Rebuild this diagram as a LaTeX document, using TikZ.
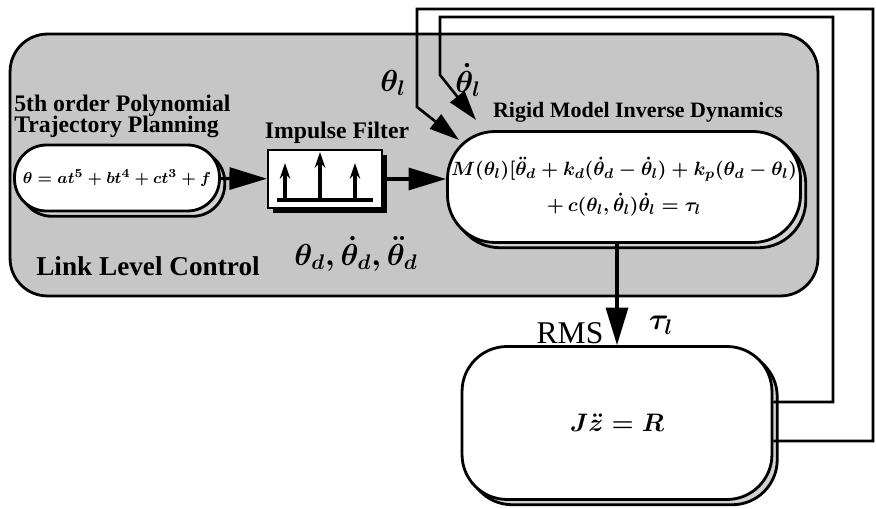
\documentclass[tikz,border=0pt]{standalone}
\usepackage{fontspec}
\setmainfont{Liberation Serif}
\usepackage{amsmath}
\usetikzlibrary{arrows.meta, positioning, shadows, calc}
\tikzset{
  panel/.style={rectangle, rounded corners=0.75cm, draw=black, line width=1.6pt, fill=gray!45},
  pillbox/.style={rectangle, rounded corners=#1, draw=black, line width=1.6pt, fill=white, align=center,
    copy shadow={shadow xshift=3pt, shadow yshift=-3pt, fill=gray!35}},
  pillbox/.default=0.6cm,
  filterbox/.style={rectangle, draw=black, line width=1.2pt, fill=white,
    drop shadow={shadow xshift=3pt, shadow yshift=-3pt, fill=black, opacity=1}},
  tag/.style={font=\bfseries\fontsize{13.5}{14}\selectfont, align=left, inner sep=0pt},
  bigtag/.style={font=\bfseries\fontsize{15.5}{16}\selectfont, inner sep=0pt},
  symtag/.style={font=\fontsize{16.5}{18}\selectfont\boldmath, inner sep=0pt},
  bigarrow/.style={-{Triangle[length=0.75cm,width=0.44cm]}, line width=1.8pt},
  fbline/.style={-{Triangle[length=0.6cm,width=0.36cm]}, line width=1.5pt},
  spike/.style={-{Stealth[length=9pt,width=6pt]}, line width=2.2pt},
}
\begin{document}
\begin{tikzpicture}[x=0.02cm, y=-0.02cm]
  \useasboundingbox (0,0) rectangle (876,509);

  % link level control panel
  \node[panel, minimum width=16.16cm, minimum height=5.24cm] (llc) at (414,165) {};

  % boxes
  \node[pillbox=0.64cm, minimum width=4.1cm, minimum height=1.32cm, inner sep=2pt,
        font=\fontsize{9.5}{11}\selectfont\boldmath] (traj) at (117,178)
        {$\theta = at^{5} + bt^{4} + ct^{3} + f$};
  \node[filterbox, minimum width=2.28cm, minimum height=1.16cm] (filt) at (325,179) {};
  \node[pillbox=0.95cm, minimum width=6.9cm, minimum height=2.22cm, inner sep=2pt,
        font=\fontsize{10.8}{13}\selectfont\boldmath] (dyn) at (624,187)
        {$M(\theta_l)[\ddot\theta_d + k_d(\dot\theta_d - \dot\theta_l) + k_p(\theta_d - \theta_l)$\\[6pt]
         $+\, c(\theta_l, \dot\theta_l)\dot\theta_l = \tau_l$};
  \node[pillbox=0.9cm, minimum width=6.2cm, minimum height=3.06cm,
        font=\fontsize{13.5}{14}\selectfont\boldmath] (plant) at (617,423) {$J\ddot z = R$};

  % impulse glyph
  \draw[line width=2.2pt] (277,200) -- (373,200);
  \foreach \px/\py in {285/163, 320/152, 355/163}
    \draw[spike] (\px,200) -- (\px,\py);

  % labels
  \node[tag, anchor=west] (trajlbl) at (14,116) {5th order Polynomial\\[-2pt]Trajectory Planning};
  \node[tag] (filtlbl) at (337,133) {Impulse Filter};
  \node[font=\bfseries\fontsize{12.5}{13}\selectfont, inner sep=0pt] (dynlbl) at (638,112) {Rigid Model Inverse Dynamics};
  \node[bigtag] (llclbl) at (148,266) {Link Level Control};
  \node[symtag] (desired) at (356,254) {$\theta_d, \dot\theta_d, \ddot\theta_d$};
  \node[symtag] (posfb) at (393,83) {$\theta_l$};
  \node[symtag] (velfb) at (468,80) {$\dot\theta_l$};
  \node[font=\fontsize{18}{19}\selectfont, inner sep=0pt] (rms) at (570,333) {RMS};
  \node[symtag] (torque) at (661,325) {$\tau_l$};

  % forward path
  \draw[bigarrow] (traj) -- (filt);
  \draw[bigarrow] (filt.east) -- (filt.east -| dyn.west);
  \draw[bigarrow] (dyn.south -| plant.north) -- (plant.north);

  % feedback
  \coordinate (qin) at (459,140);
  \coordinate (dqin) at (476,120);
  \coordinate (qrow) at (0,441);
  \coordinate (dqrow) at (0,402);
  \draw[fbline] (plant.east |- qrow) -- (873,441) -- (873,9) -- (417,9) -- (417,107) -- (qin);
  \draw[fbline] (plant.east |- dqrow) -- (833,402) -- (833,17) -- (440,17) -- (440,75) -- (dqin);
\end{tikzpicture}
\end{document}
